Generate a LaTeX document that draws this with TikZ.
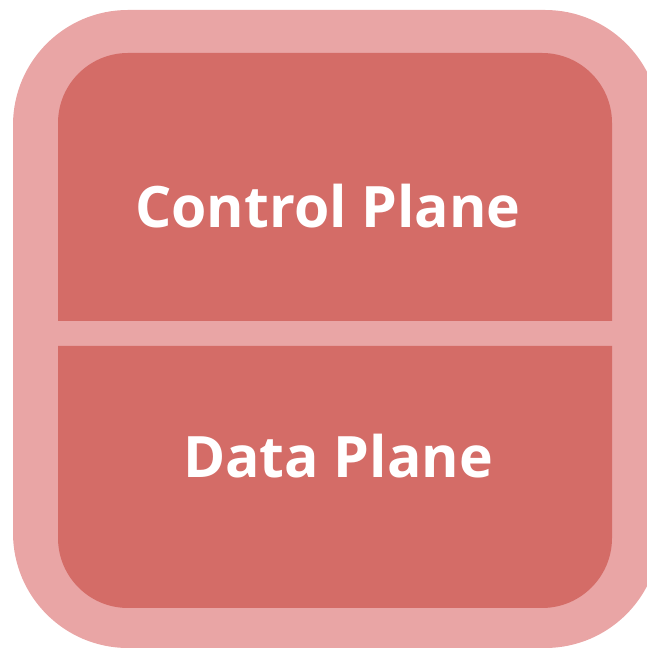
\documentclass[tikz,border=0pt]{standalone}
\usepackage{fontspec}
\setmainfont{Open Sans}
\usepackage{xcolor}
\definecolor{framepink}{RGB}{233,165,165}
\definecolor{panelred}{RGB}{212,108,103}

\begin{document}
\begin{tikzpicture}[x=0.02cm,y=0.02cm,
    planelabel/.style={text=white,font=\fontsize{32.5}{38}\selectfont\bfseries,inner sep=0pt}]
    \useasboundingbox (0,0) rectangle (647,649);
    % Outer frame
    \fill[framepink,rounded corners=2.3cm] (13,1) rectangle (660,639);
    \fill[white] (647,0) rectangle (670,649);
    % Upper panel
    \fill[panelred] (58,328) -- (58,526) arc[start angle=180,end angle=90,radius=70]
        -- (542,596) arc[start angle=90,end angle=0,radius=70] -- (612,328) -- cycle;
    % Lower panel
    \fill[panelred] (58,303) -- (58,111) arc[start angle=180,end angle=270,radius=70]
        -- (542,41) arc[start angle=270,end angle=360,radius=70] -- (612,303) -- cycle;
    % Labels
    \node[planelabel] (ctrl) at (328,443) {Control Plane};
    \node[planelabel] (data) at (338,193) {Data Plane};
\end{tikzpicture}
\end{document}
